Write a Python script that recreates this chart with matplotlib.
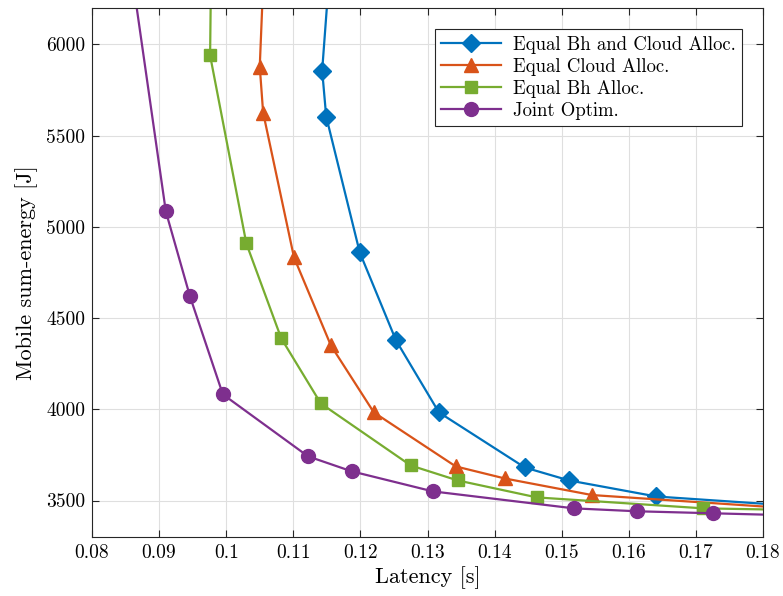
import numpy as np
import matplotlib.pyplot as plt

# Computer Modern for the MATLAB/LaTeX look
plt.rcParams['font.family'] = ['cmr10', 'DejaVu Serif']
plt.rcParams['mathtext.fontset'] = 'cm'
plt.rcParams['axes.formatter.use_mathtext'] = True

# latency [s] / mobile sum-energy [J] for each scheme
lat_equal_both = [0.1158, 0.1143, 0.1149, 0.1199, 0.1253, 0.1317, 0.1445, 0.1511, 0.1641, 0.1850]
en_equal_both = [6600, 5857, 5605, 4860, 4378, 3983, 3681, 3610, 3522, 3470]

lat_equal_cloud = [0.1058, 0.1050, 0.1055, 0.1101, 0.1156, 0.1220, 0.1342, 0.1415, 0.1545, 0.1850]
en_equal_cloud = [6600, 5879, 5627, 4833, 4350, 3983, 3687, 3621, 3530, 3455]

lat_equal_bh = [0.0978, 0.0976, 0.1030, 0.1082, 0.1141, 0.1275, 0.1345, 0.1463, 0.1711, 0.1850]
en_equal_bh = [6600, 5940, 4909, 4389, 4032, 3692, 3610, 3517, 3457, 3448]

lat_joint = [0.0855, 0.0910, 0.0946, 0.0995, 0.1122, 0.1187, 0.1308, 0.1518, 0.1612, 0.1725, 0.1850]
en_joint = [6500, 5085, 4619, 4082, 3742, 3660, 3550, 3457, 3441, 3430, 3418]

x_ticks = [0.08, 0.09, 0.10, 0.11, 0.12, 0.13, 0.14, 0.15, 0.16, 0.17, 0.18]
y_ticks = [3500, 4000, 4500, 5000, 5500, 6000]

fig = plt.figure(figsize=(7.83, 5.96), dpi=100)
ax = fig.add_axes([0.1175, 0.099, 0.857, 0.8876])

ax.plot(lat_equal_both, en_equal_both, '-D', color='#0072BD', lw=1.6, ms=9,
        label='Equal Bh and Cloud Alloc.')
ax.plot(lat_equal_cloud, en_equal_cloud, '-^', color='#D95319', lw=1.6, ms=10,
        label='Equal Cloud Alloc.')
ax.plot(lat_equal_bh, en_equal_bh, '-s', color='#77AC30', lw=1.6, ms=8,
        label='Equal Bh Alloc.')
ax.plot(lat_joint, en_joint, '-o', color='#7E2F8E', lw=1.6, ms=10,
        label='Joint Optim.')

ax.set_xlim(0.08, 0.18)
ax.set_ylim(3300, 6200)
ax.set_xticks(x_ticks)
ax.set_xticklabels(['%g' % v for v in x_ticks])
ax.set_yticks(y_ticks)
ax.set_yticklabels([str(v) for v in y_ticks])

ax.grid(True, color='#dfdfdf', lw=0.8)
ax.set_axisbelow(True)
ax.tick_params(direction='in', top=True, right=True, labelsize=14,
               color='#262626', length=5, width=0.8, pad=5)
for s in ax.spines.values():
    s.set_color('#262626')
    s.set_linewidth(0.8)

ax.set_xlabel('Latency [s]', fontsize=16, labelpad=3)
ax.set_ylabel('Mobile sum-energy [J]', fontsize=16, labelpad=6)

leg = ax.legend(loc='upper right', bbox_to_anchor=(0.9687, 0.9603),
                fontsize=13.5, fancybox=False, framealpha=1,
                edgecolor='#262626', borderaxespad=0, handlelength=3.2,
                borderpad=0.35, labelspacing=0.22, handletextpad=0.6)
leg.get_frame().set_linewidth(0.8)

fig.savefig('out.png', dpi=100)
